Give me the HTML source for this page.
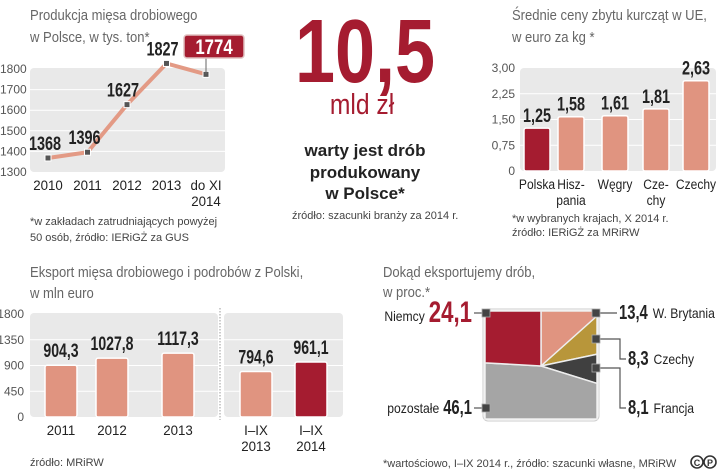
<!DOCTYPE html>
<html><head><meta charset="utf-8"><style>
body{margin:0;background:#fff;width:720px;height:472px;overflow:hidden}
svg{display:block;font-family:"Liberation Sans",sans-serif}
.t{font-size:14.5px;fill:#666}
.tk{font-size:12px;fill:#555}
.xl{font-size:14px;fill:#222}
.v{font-size:19px;font-weight:bold;fill:#222}
.fn{font-size:11px;fill:#444}
</style></head><body>
<svg id="s" width="720" height="472" viewBox="0 0 720 472">
<g><text class="t" x="30" y="20">Produkcja mięsa drobiowego</text><text class="t" x="30" y="42">w Polsce, w tys. ton*</text></g>
<rect x="30" y="68" width="195" height="104" rx="4" fill="#e9e9e9"/>
<g id="c1"></g>
<g><text class="fn" x="30" y="225">*w zakładach zatrudniających powyżej</text><text class="fn" x="30" y="241">50 osób, źródło: IERiGŻ za GUS</text></g>

<g>
<text class="keep" x="365" y="82" text-anchor="middle" font-size="90" font-weight="bold" fill="#a51c30" transform="translate(365 0) scale(0.8 1) translate(-365 0)">10,5</text>
<text class="keep" x="362" y="114" text-anchor="middle" font-size="29" fill="#a51c30" transform="translate(362 0) scale(0.85 1) translate(-362 0)">mld zł</text>
<g font-size="17" font-weight="bold" fill="#222" text-anchor="middle">
<text class="keep" x="365" y="156">warty jest drób</text><text class="keep" x="365" y="178">produkowany</text><text class="keep" x="365" y="199">w Polsce*</text></g>
<text class="fn" x="292" y="219">źródło: szacunki branży za 2014 r.</text>
</g>

<g><text class="t" x="512" y="20">Średnie ceny zbytu kurcząt w UE,</text><text class="t" x="512" y="42">w euro za kg *</text></g>
<rect x="520" y="68" width="196" height="103" rx="4" fill="#e9e9e9"/>
<g id="c2"></g>
<g><text class="fn" x="512" y="222">*w wybranych krajach, X 2014 r.</text><text class="fn" x="512" y="236">źródło: IERiGŻ za MRiRW</text></g>

<g><text class="t" x="30" y="277">Eksport mięsa drobiowego i podrobów z Polski,</text><text class="t" x="30" y="298">w mln euro</text></g>
<rect x="30" y="313" width="188" height="104" rx="4" fill="#e9e9e9"/>
<rect x="224" y="313" width="119" height="104" rx="4" fill="#e9e9e9"/>
<line x1="220" y1="308" x2="220" y2="420" stroke="#999" stroke-dasharray="1.5 1.5"/>
<g id="c3"></g>
<text class="fn" x="30" y="466">źródło: MRiRW</text>

<g><text class="t" x="383" y="277">Dokąd eksportujemy drób,</text><text class="t" x="383" y="297">w proc.*</text></g>
<g id="c4"></g>
<text class="fn" x="383" y="467">*wartościowo, I–IX 2014 r., źródło: szacunki własne, MRiRW</text>
<g fill="none" stroke="#333" stroke-width="1.6"><circle cx="697" cy="462" r="6"/><circle cx="710" cy="462" r="6"/><text class="keep" x="697" y="466" font-size="9" font-weight="bold" text-anchor="middle" fill="#333" stroke="none">C</text><text class="keep" x="710" y="466" font-size="9" font-weight="bold" text-anchor="middle" fill="#333" stroke="none">P</text></g>
</svg>
<script>
const prodCats=["2010","2011","2012","2013","do XI|2014"];
const prodVals=[1368,1396,1627,1827,1774];
const prodTicks=[1300,1400,1500,1600,1700,1800];
const priceCats=["Polska","Hisz-|pania","Węgry","Cze-|chy","Czechy"];
const priceVals=[1.25,1.58,1.61,1.81,2.63];
const priceLabels=["1,25","1,58","1,61","1,81","2,63"];
const priceTicks=["0","0,75","1,50","2,25","3,00"];
const priceTickVals=[0,0.75,1.5,2.25,3];
const expCats=["2011","2012","2013","I–IX|2013","I–IX|2014"];
const expVals=[904.3,1027.8,1117.3,794.6,961.1];
const expLabels=["904,3","1027,8","1117,3","794,6","961,1"];
const expTicks=[0,450,900,1350,1800];
const destNames=["W. Brytania","Czechy","Francja","pozostałe","Niemcy"];
const destVals=[13.4,8.3,8.1,46.1,24.1];
const destLabels=["13,4","8,3","8,1","46,1","24,1"];
const NS="http://www.w3.org/2000/svg";
function mk(p,tag,a,txt){const e=document.createElementNS(NS,tag);for(const k in a)e.setAttribute(k,a[k]);if(txt!==undefined)e.textContent=txt;p.appendChild(e);return e;}
function cond(t,s){const x=parseFloat(t.getAttribute('x'));t.setAttribute('transform','translate('+x+' 0) scale('+s+' 1) translate('+(-x)+' 0)');t.classList.add('keep');}
function xlab(g,x,y,s,cls,sc){s.split("|").forEach((l,i)=>{const t=mk(g,"text",{x:x,y:y+i*16,"text-anchor":"middle",class:cls},l);if(sc)cond(t,sc);});}
// chart 1
(function(){const g=document.getElementById("c1");
const y=v=>172-(v-1300)*(103/500);const x=i=>48+i*39.5;
prodTicks.forEach(t=>{if(t>1300&&t<1800){const l=mk(g,"line",{x1:30,x2:225,y1:y(t),y2:y(t),stroke:"#fff"});}
const tx=mk(g,"text",{x:0,y:y(t)+4,class:"tk"},t);});
const pl=mk(g,"polyline",{points:prodVals.map((v,i)=>x(i)+","+y(v)).join(" "),fill:"none",stroke:"#e39a85","stroke-width":4});

prodVals.forEach((v,i)=>{const p=mk(g,"rect",{x:x(i)-3,y:y(v)-3,width:6,height:6,fill:"#555",stroke:"#fff","stroke-width":1});

xlab(g,x(i),190,prodCats[i],"xl",0.95);
if(i<4){const t=mk(g,"text",{x:x(i)+(i<2?-3:-4),y:y(v)-8,"text-anchor":"middle",class:"v"},v);cond(t,0.76);}
else{mk(g,"line",{x1:x(i),x2:x(i),y1:y(v),y2:57,stroke:"#666"});
const b=mk(g,"rect",{x:x(i)-22,y:35,width:60,height:23,rx:3,fill:"#a51c30",stroke:"#e0c0c0","stroke-width":1.5});
const t=mk(g,"text",{x:x(i)+8,y:54,"text-anchor":"middle",class:"v",style:"fill:#fff;font-size:21px"},v);cond(t,0.8);}});})();
// chart 2
(function(){const g=document.getElementById("c2");
const y=v=>171-v*(103/3);const cx=[537,571,615,656,696];
priceTickVals.forEach((t,i)=>{if(t>0&&t<3){const l=mk(g,"line",{x1:520,x2:716,y1:y(t),y2:y(t),stroke:"#fff"});}
const tx=mk(g,"text",{x:515,y:y(t)+4,class:"tk","text-anchor":"end"},priceTicks[i]);});
priceVals.forEach((v,i)=>{const b=mk(g,"rect",{x:cx[i]-13,y:y(v),width:26,height:171-y(v),rx:2,fill:i==0?"#a51c30":"#e09480",stroke:"#fff","stroke-width":1.5});

const t=mk(g,"text",{x:cx[i],y:y(v)-6,"text-anchor":"middle",class:"v"},priceLabels[i]);cond(t,0.76);
xlab(g,cx[i],189,priceCats[i],"xl",0.86);});})();
// chart 3
(function(){const g=document.getElementById("c3");
const y=v=>417-v*(103/1800);const cx=[61,112,178,256,311];
expTicks.forEach(t=>{if(t>0&&t<1800){[[30,218],[224,343]].forEach(r=>{const l=mk(g,"line",{x1:r[0],x2:r[1],y1:y(t),y2:y(t),stroke:"#fff"});});}
const tx=mk(g,"text",{x:24,y:y(t)+4,class:"tk","text-anchor":"end"},t);});
expVals.forEach((v,i)=>{const b=mk(g,"rect",{x:cx[i]-16,y:y(v),width:32,height:417-y(v),rx:2,fill:i==4?"#a51c30":"#e09480",stroke:"#fff","stroke-width":1.5});

const t=mk(g,"text",{x:cx[i],y:y(v)-8,"text-anchor":"middle",class:"v"},expLabels[i]);cond(t,0.74);
xlab(g,cx[i],435,expCats[i],"xl",0.95);});})();
// chart 4 square pie
(function(){const g=document.getElementById("c4");
const cx=541,cy=366,L=485,R=597,T=311,B=419;const cols=["#e09480","#b8963a","#404040","#a5a5a5","#a51c30"];
function hit(a){const dx=Math.sin(a),dy=-Math.cos(a);let t=1e9;
if(dx>0)t=Math.min(t,(R-cx)/dx);if(dx<0)t=Math.min(t,(L-cx)/dx);if(dy>0)t=Math.min(t,(B-cy)/dy);if(dy<0)t=Math.min(t,(T-cy)/dy);return [cx+dx*t,cy+dy*t];}
const corners=[[R,T,Math.atan2(R-cx,-(T-cy))],[R,B,Math.atan2(R-cx,-(B-cy))],[L,B,Math.atan2(L-cx,-(B-cy))+2*Math.PI],[L,T,Math.atan2(L-cx,-(T-cy))+2*Math.PI]];
mk(g,"rect",{x:L-2,y:T-2,width:R-L+4,height:B-T+4,rx:5,fill:"#fff",stroke:"#ccc","stroke-width":1});
let acc=0;const tot=destVals.reduce((a,b)=>a+b,0);
destVals.forEach((v,i)=>{const a0=acc/tot*2*Math.PI;acc+=v;const a1=acc/tot*2*Math.PI;
let pts=[[cx,cy],hit(a0)];corners.forEach(c=>{if(c[2]>a0&&c[2]<a1)pts.push([c[0],c[1]]);});pts.push(hit(a1));
const p=mk(g,"polygon",{points:pts.map(q=>q.join(",")).join(" "),fill:cols[i],stroke:"#eee","stroke-width":1.5});
});
const labs=[{m:[596,313],path:"M596 313 H617",tx:619,ty:319},{m:[596,339],path:"M596 339 H620 V359 H626",tx:628,ty:365},{m:[596,368],path:"M596 368 H620 V408 H626",tx:628,ty:414},{m:[486,408],path:"M486 408 H474",tx:472,ty:414,left:true},{m:[486,313],path:"M486 313 H474",tx:472,ty:322,left:true,big:true}];
labs.forEach((l,i)=>{mk(g,"path",{d:l.path,fill:"none",stroke:"#555","stroke-width":1.2});
const m=mk(g,"rect",{x:l.m[0]-4,y:l.m[1]-4,width:8,height:8,fill:"#444",stroke:"#aaa","stroke-width":0.8});
const vt=mk(g,"text",{x:l.tx,y:l.ty,"text-anchor":l.left?"end":"start",style:l.big?"font-size:30px;font-weight:bold;fill:#a51c30":"font-size:20px;font-weight:bold;fill:#222"},destLabels[i]);

const s=0.74;cond(vt,s);const w=vt.getComputedTextLength()*s;
const nt=mk(g,"text",{x:l.left?l.tx-w-4:l.tx+w+5,y:l.ty-1,"text-anchor":l.left?"end":"start",style:"font-size:13.5px;fill:#222"},destNames[i]);
cond(nt,0.9);});})();
// condense remaining text
document.querySelectorAll('text').forEach(t=>{if(t.classList.contains('keep'))return;
if(t.classList.contains('t'))cond(t,0.9);});
</script>
</body></html>
